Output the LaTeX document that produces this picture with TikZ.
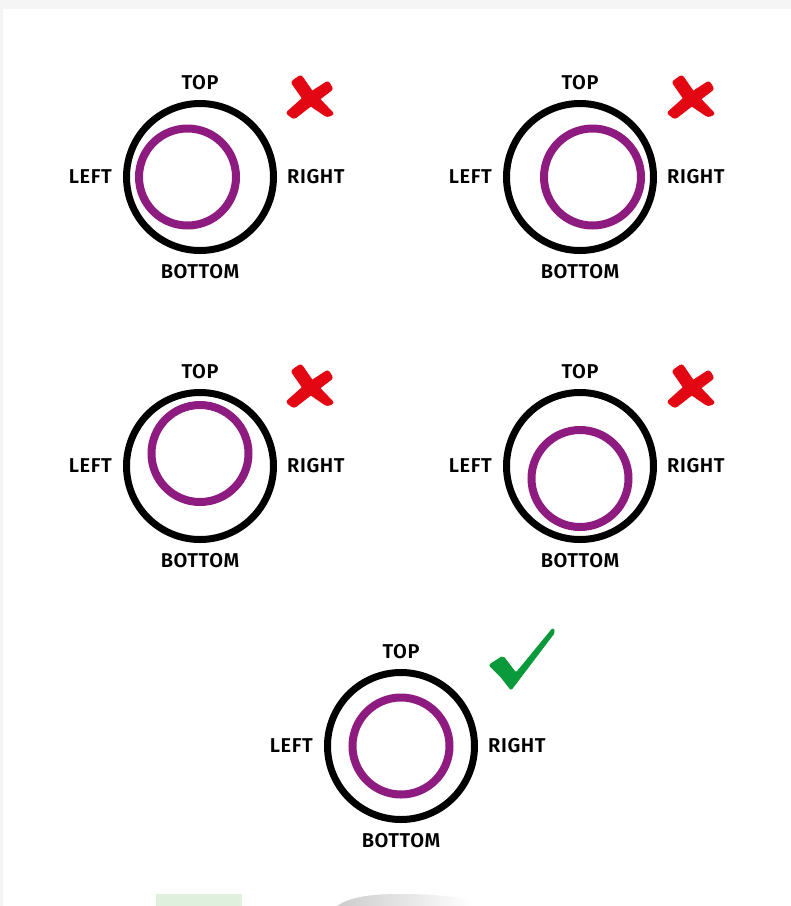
\documentclass[tikz,border=0pt]{standalone}
\usepackage{fontspec}
\setmainfont{Fira Sans}[UprightFont={* SemiBold}]
\definecolor{ringpurple}{HTML}{8E1B7F}
\definecolor{xred}{HTML}{E30613}
\definecolor{okgreen}{HTML}{0A9A3C}
\definecolor{pagegray}{HTML}{F5F5F5}
\definecolor{palegreen}{HTML}{DFF0DC}
\tikzset{
  outerring/.style={circle, draw=black, line width=7pt, minimum size=147pt, inner sep=0pt},
  innerring/.style={circle, draw=ringpurple, line width=8pt, minimum size=97pt, inner sep=0pt},
  lbl/.style={inner sep=0pt, font=\fontsize{20}{22}\selectfont\addfontfeatures{LetterSpace=3}},
  crossmark/.style={fill=xred, draw=xred, line width=1pt, rounded corners=2.5pt},
  checkmark/.style={fill=okgreen, draw=okgreen, line width=0.8pt, rounded corners=2pt}
}
\newcommand{\ringpanel}[5]{% name, cx, cy, dx, dy
  \node[outerring] (#1o) at (#2,#3) {};
  \node[innerring] (#1i) at ($(#1o.center)+(#4,#5)$) {};
  \node[lbl] (#1t) at ($(#1o.center)+(0,-94.5)$) {TOP};
  \node[lbl] (#1b) at ($(#1o.center)+(0,94.5)$) {BOTTOM};
  \node[lbl, anchor=east] (#1l) at ($(#1o.center)+(-88,0)$) {LEFT};
  \node[lbl, anchor=west] (#1r) at ($(#1o.center)+(87,0)$) {RIGHT};
}
\newcommand{\redcross}[2]{%
  \begin{scope}[shift={(#1,#2)}]
    \fill[crossmark] (-18,-15) -- (-8,-22) -- (3,-6) -- (25,17) -- (18,20) -- (-4,5) -- cycle;
    \fill[crossmark] (19,-16) -- (24,-8) -- (3,8) -- (-15,22) -- (-23,16) -- (-4,-1) -- cycle;
  \end{scope}}
\usetikzlibrary{calc}
\begin{document}
\begin{tikzpicture}[x=1pt, y=-1pt]
  \useasboundingbox (0,0) rectangle (791,906);
  \fill[pagegray] (0,0) rectangle (791,9);
  \fill[pagegray] (0,0) rectangle (2.5,906);
  \ringpanel{a}{200}{177}{-12.5}{0}
  \ringpanel{b}{580}{177}{12.5}{0}
  \ringpanel{c}{200}{466}{0}{-12.5}
  \ringpanel{d}{580}{466}{0}{12.5}
  \ringpanel{e}{401}{746}{0}{0}
  \redcross{309}{97}
  \redcross{690}{97}
  \redcross{309}{386}
  \redcross{690}{386}
  \fill[checkmark] (489,665) -- (503,656) -- (516,673) -- (553,628) -- (555,632) -- (511,690) -- (501,677) -- cycle;
  \fill[palegreen] (156,894) rectangle (242,906);
  \shade[left color=gray!40, right color=white] (337,906) .. controls (350,897) and (370,894) .. (400,894) .. controls (440,894) and (460,897) .. (473,902) -- (473,906) -- cycle;
\end{tikzpicture}
\end{document}
